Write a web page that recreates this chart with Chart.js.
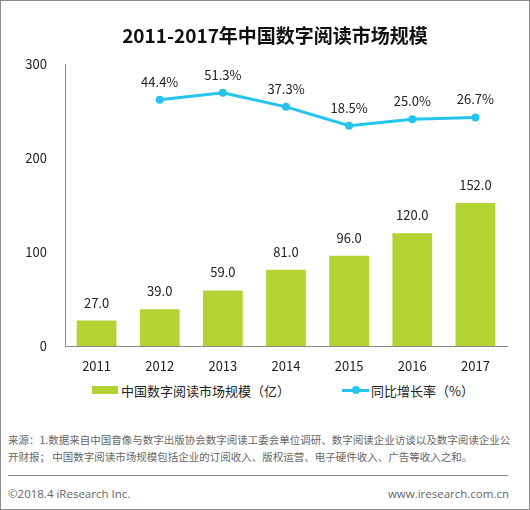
<!DOCTYPE html>
<html>
<head>
<meta charset="utf-8">
<script src="https://cdn.jsdelivr.net/npm/chart.js@4/dist/chart.umd.min.js"></script>
<style>
  body { margin: 0; background: #fff; }
  #wrap { position: relative; width: 530px; height: 510px; box-sizing: border-box; border: 1px solid #8a8a8a; overflow: hidden; font-family: "Noto Sans CJK SC", "Noto Sans", sans-serif; }
  #chart { position: absolute; left: -1px; top: -1px; }
  .abs { position: absolute; white-space: nowrap; }
  #title { left: 0; width: 548px; top: 20px; text-align: center; font-size: 19px; font-weight: bold; color: #111; line-height: 28px; }
  .leg { top: 381px; font-size: 13px; color: #222; line-height: 18px; }
  #note { left: 7px; top: 431px; width: 504px; font-size: 10.5px; color: #666; line-height: 16.5px; white-space: normal; }
  #sep { left: 7px; top: 474px; width: 500px; height: 0; border-top: 1px solid #8a8a8a; }
  .foot { top: 485px; font-size: 11.5px; color: #666; line-height: 16px; font-family: "Open Sans", "Noto Sans", sans-serif; }
</style>
</head>
<body>
<div id="wrap">
  <canvas id="chart" width="530" height="380"></canvas>
  <div id="title" class="abs">2011-2017年中国数字阅读市场规模</div>
  <div class="abs leg" style="left:91px;top:385px;width:26px;height:8px;background:#B3D234;"></div>
  <div class="abs leg" style="left:120px;">中国数字阅读市场规模（亿）</div>
  <div class="abs leg" style="left:341px;top:388px;width:27px;height:3px;background:#25C4EF;"></div>
  <div class="abs leg" style="left:351px;top:385px;width:8px;height:8px;border-radius:50%;background:#25C4EF;"></div>
  <div class="abs leg" style="left:370px;">同比增长率（%）</div>
  <div id="note" class="abs">来源：1.数据来自中国音像与数字出版协会数字阅读工委会单位调研、数字阅读企业访谈以及数字阅读企业公开财报； 中国数字阅读市场规模包括企业的订阅收入、版权运营、电子硬件收入、广告等收入之和。</div>
  <div id="sep" class="abs"></div>
  <div class="abs foot" style="left:7px;">©2018.4 iResearch Inc.</div>
  <div class="abs foot" style="right:20px;">www.iresearch.com.cn</div>
</div>
<script>
var years = ['2011', '2012', '2013', '2014', '2015', '2016', '2017'];
var marketSize = [27.0, 39.0, 59.0, 81.0, 96.0, 120.0, 152.0];
var growthRate = [null, 44.4, 51.3, 37.3, 18.5, 25.0, 26.7];
var yTicks = [0, 100, 200, 300];

var green = '#B3D234';
var blue = '#25C4EF';

// draws the value labels above bars and points
var valueLabels = {
  id: 'valueLabels',
  afterDatasetsDraw: function(chart) {
    var ctx = chart.ctx;
    ctx.save();
    ctx.font = '13px "Noto Sans CJK SC", "Noto Sans", sans-serif';
    ctx.fillStyle = '#222';
    ctx.textAlign = 'center';
    ctx.textBaseline = 'middle';
    chart.data.datasets.forEach(function(ds, i) {
      var meta = chart.getDatasetMeta(i);
      meta.data.forEach(function(el, j) {
        var v = ds.data[j];
        if (v === null) return;
        if (ds.type === 'line') {
          ctx.fillText(v.toFixed(1) + '%', el.x, el.y - 18);
        } else {
          ctx.fillText(v.toFixed(1), el.x, el.y - 18);
        }
      });
    });
    ctx.restore();
  }
};

var ctx = document.getElementById('chart');
var myChart = new Chart(ctx, {
  type: 'bar',
  data: {
    labels: years,
    datasets: [
      {
        type: 'line',
        label: '同比增长率（%）',
        data: growthRate,
        yAxisID: 'y1',
        borderColor: blue,
        backgroundColor: blue,
        borderWidth: 3,
        pointRadius: 4,
        pointHoverRadius: 4,
        pointBackgroundColor: blue,
        pointBorderWidth: 0,
        tension: 0
      },
      {
        type: 'bar',
        label: '中国数字阅读市场规模（亿）',
        data: marketSize,
        yAxisID: 'y',
        backgroundColor: green,
        barPercentage: 0.63,
        categoryPercentage: 1
      }
    ]
  },
  options: {
    responsive: false,
    animation: false,
    layout: { padding: { left: 0, right: 23, top: 64, bottom: 0 } },
    plugins: {
      legend: { display: false },
      tooltip: { enabled: false },
      title: { display: false }
    },
    scales: {
      x: {
        grid: { display: false, drawTicks: false },
        border: { display: true, color: '#8a8a8a', width: 1 },
        ticks: {
          padding: 12,
          color: '#222',
          font: { size: 13, family: '"Noto Sans CJK SC", "Noto Sans", sans-serif' }
        },
        afterFit: function(scale) { scale.height = 34; }
      },
      y: {
        min: 0,
        max: 300,
        afterBuildTicks: function(scale) {
          scale.ticks = yTicks.map(function(v) { return { value: v }; });
        },
        grid: { display: false, drawTicks: false },
        border: { display: true, color: '#8a8a8a', width: 1 },
        ticks: {
          padding: 18,
          color: '#222',
          font: { size: 13, family: '"Noto Sans CJK SC", "Noto Sans", sans-serif' }
        },
        afterFit: function(scale) { scale.width = 65; }
      },
      y1: {
        display: false,
        min: -201,
        max: 80
      }
    }
  },
  plugins: [valueLabels]
});
</script>
</body>
</html>
